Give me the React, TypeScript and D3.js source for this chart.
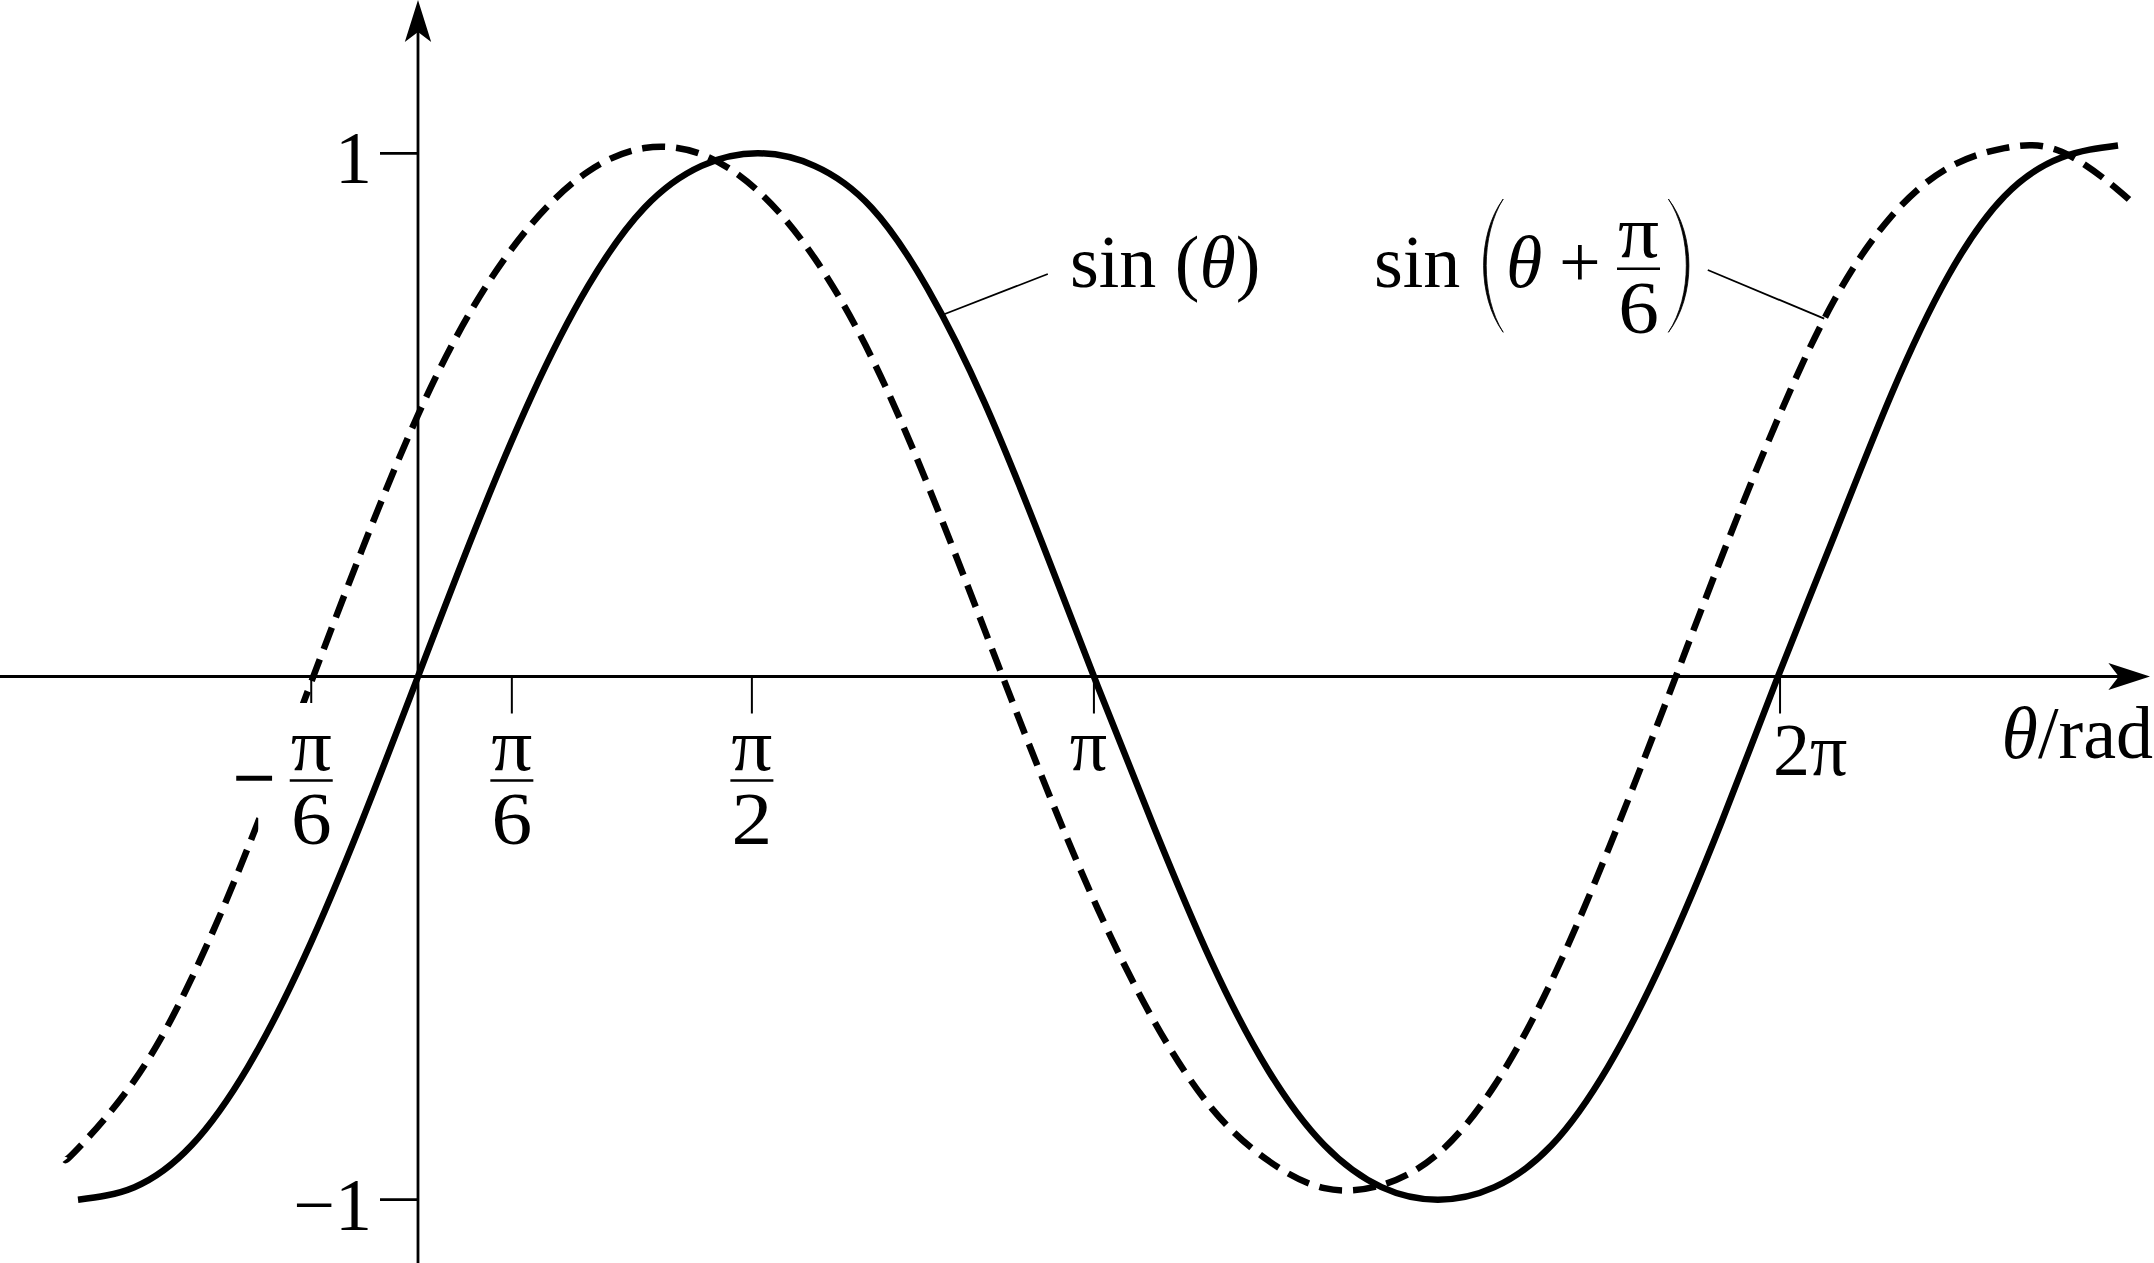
import React from 'react';
import * as d3 from 'd3';

// θ given in multiples of π
const solidTheta = [-0.5,-0.417,-0.333,-0.25,-0.167,-0.083,0,0.083,0.167,0.25,0.333,0.417,0.5,0.583,0.667,0.75,0.833,0.917,1.0,1.083,1.167,1.25,1.333,1.417,1.5,1.583,1.667,1.75,1.833,1.917,2.0,2.083,2.167,2.25,2.333,2.417,2.5];
const solidValue = [-1.0,-0.976,-0.896,-0.746,-0.536,-0.278,0,0.278,0.536,0.746,0.896,0.976,1.0,0.976,0.896,0.74,0.524,0.258,-0.02,-0.29,-0.546,-0.752,-0.896,-0.976,-1.0,-0.976,-0.896,-0.746,-0.536,-0.278,0,0.27,0.54,0.765,0.918,0.992,1.015];

const dashedTheta = [-0.519,-0.5,-0.417,-0.333,-0.25,-0.167,-0.083,0,0.083,0.167,0.25,0.333,0.417,0.5,0.583,0.667,0.75,0.833,0.917,1.0,1.083,1.167,1.25,1.333,1.417,1.5,1.583,1.667,1.75,1.833,1.917,2.0,2.083,2.167,2.25,2.333,2.417,2.5,2.521];
const dashedValue = [-0.924,-0.902,-0.772,-0.577,-0.327,-0.045,0.24,0.5,0.71,0.865,0.965,1.01,0.998,0.928,0.8,0.61,0.365,0.09,-0.19,-0.445,-0.66,-0.825,-0.925,-0.978,-0.972,-0.912,-0.782,-0.582,-0.332,-0.057,0.228,0.493,0.72,0.88,0.972,1.01,1.003,0.93,0.905];

const xTickPos = [-0.157, 0.138, 0.491, 0.994, 2.003];
const xTickLabels = ['−π/6', 'π/6', 'π/2', 'π', '2π'];
const yTickValues = [1, -1];
const yTickLabels = ['1', '−1'];

// layout (not data)
const W = 2154, H = 1263;
const FONT = '"Liberation Serif", "Times New Roman", "DejaVu Serif", serif';
const FS = 74;
const xLabelDx = [0, 0, 0, -5.5, -7];
const xLabelAnchor = ['middle', 'middle', 'middle', 'middle', 'start'];
const xLabelBase = [770, 770, 770, 770, 775];

function parenPath(xEnd: number, xMid: number, yTop: number, yBot: number, thick: number) {
  const dir = xMid < xEnd ? 1 : -1;
  const cOuter = (xMid - 0.25 * xEnd) / 0.75;
  const cInner = cOuter + dir * thick / 0.75;
  const h = yBot - yTop;
  const c1y = yTop + h * 0.27, c2y = yTop + h * 0.73;
  return `M${xEnd},${yTop} C${cOuter},${c1y} ${cOuter},${c2y} ${xEnd},${yBot} C${cInner},${c2y} ${cInner},${c1y} ${xEnd},${yTop} Z`;
}

// stacked fraction drawn as a single text element (numerator + denominator)
function Fraction({ cx, numBase, barY, denBase, num, den }:
  { cx: number; numBase: number; barY: number; denBase: number; num: string; den: string }) {
  return (
    <g>
      <text transform={`translate(${cx},0) scale(1.1,1)`} textAnchor="middle">
        <tspan x={0} y={numBase}>{num}</tspan>
        <tspan x={0} y={denBase}>{den}</tspan>
      </text>
      <line x1={cx - 21.5} x2={cx + 21.5} y1={barY} y2={barY} stroke="#000" strokeWidth={2.6} />
    </g>
  );
}

export default function App() {
  const x = d3.scaleLinear().domain([0, 1]).range([418, 1098]);
  const y = d3.scaleLinear().domain([-1, 1]).range([1199.7, 153.3]);
  const x0 = x(0), y0 = y(0);

  const line = d3.line<[number, number]>()
    .x(d => x(d[0]))
    .y(d => y(d[1]))
    .curve(d3.curveNatural);

  const solidPts = d3.zip(solidTheta, solidValue) as [number, number][];
  const dashedPts = d3.zip(dashedTheta, dashedValue) as [number, number][];

  const sinLeader = { x1: x(0.769), y1: y(0.69), x2: 1047.8, y2: 274 };
  const sin2Leader = { x1: 1707.8, y1: 270, x2: x(2.068), y2: y(0.684) };

  return (
    <svg width={W} height={H} style={{ position: 'absolute', left: 0, top: 0, background: '#fff' }}
      fontFamily={FONT} fontSize={FS}>
      <rect x={0} y={0} width={W} height={H} fill="#fff" />
      {/* axes */}
      <line x1={0} y1={y0} x2={2120} y2={y0} stroke="#000" strokeWidth={2.8} />
      <path d={`M2150,${y0} L2108.4,${y0 - 13.5} L2118.7,${y0} L2108.4,${y0 + 13.5} Z`} fill="#000" />
      <line x1={x0} y1={30} x2={x0} y2={H} stroke="#000" strokeWidth={2.8} />
      <path d={`M${x0},0 L${x0 - 13.2},42 L${x0},32 L${x0 + 13.2},42 Z`} fill="#000" />

      {/* y ticks */}
      {yTickValues.map((v, i) => (
        <g key={'yt' + i}>
          <line x1={x0 - 38} x2={x0} y1={y(v)} y2={y(v)} stroke="#000" strokeWidth={2.8} />
          <text x={372} y={y(v) + (v > 0 ? 29.4 : 30)} textAnchor="end">{yTickLabels[i]}</text>
        </g>
      ))}

      {/* x ticks */}
      {xTickPos.map((p, i) => (
        <line key={'xt' + i} x1={x(p)} x2={x(p)} y1={y0} y2={y0 + 37} stroke="#000" strokeWidth={2} />
      ))}

      {/* curves */}
      <path d={line(solidPts) || ''} fill="none" stroke="#000" strokeWidth={6.5} />
      <path d={line(dashedPts) || ''} fill="none" stroke="#000" strokeWidth={6.5} strokeDasharray="23 11" />

      {/* x tick labels */}
      {xTickLabels.map((lab, i) => {
        const cx = x(xTickPos[i]);
        if (lab.includes('/')) {
          const neg = lab.startsWith('−');
          const [num, den] = lab.replace('−', '').split('/');
          return (
            <g key={'xl' + i}>
              {neg && <rect x={cx - 53} y={703} width={80} height={147} fill="#fff" />}
              {neg && <text x={cx - 57} y={803} textAnchor="middle" stroke="#000" strokeWidth={1.4}>−</text>}
              <Fraction cx={cx} numBase={770} barY={780.5} denBase={844} num={num} den={den} />
            </g>
          );
        }
        return (
          <text key={'xl' + i} x={cx + xLabelDx[i]} y={xLabelBase[i]} textAnchor={xLabelAnchor[i] as any}>{lab}</text>
        );
      })}

      {/* axis label */}
      <text x={2153} y={757.7} textAnchor="end">
        <tspan fontStyle="italic">θ</tspan>/rad
      </text>

      {/* series label: sin(θ) */}
      <line {...sinLeader} stroke="#000" strokeWidth={1.8} />
      <text x={1070} y={286.7}>sin (<tspan fontStyle="italic">θ</tspan>)</text>

      {/* series label: sin(θ + π/6) */}
      <line {...sin2Leader} stroke="#000" strokeWidth={1.8} />
      <text x={1374} y={286.7}>sin</text>
      <path d={parenPath(1503.2, 1483.6, 199, 332.3, 2.6)} fill="#000" stroke="#000" strokeWidth={0.8} />
      <text x={1506} y={286.7} fontStyle="italic">θ</text>
      <text x={1559} y={286.7}>+</text>
      <Fraction cx={1638.5} numBase={257} barY={268.7} denBase={333} num="π" den="6" />
      <path d={parenPath(1668.4, 1688.9, 199, 332.3, 2.6)} fill="#000" stroke="#000" strokeWidth={0.8} />
    </svg>
  );
}
